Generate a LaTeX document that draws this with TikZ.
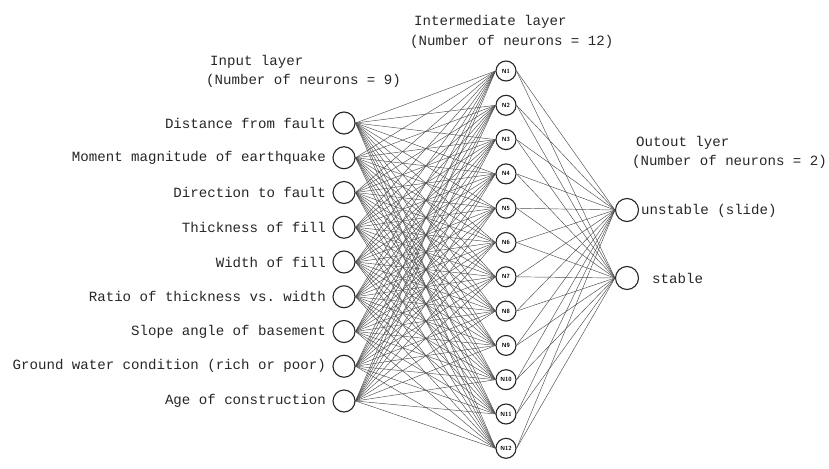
\documentclass[tikz,border=0pt]{standalone}
\usepackage{fontspec}
\setmonofont{Liberation Mono}
\begin{document}
\begin{tikzpicture}[x=1pt,y=-1pt,
  lbl/.style={font=\ttfamily\fontsize{14.1}{16}\selectfont, text=black!85, inner sep=0pt},
  innode/.style={circle, draw=black!85, line width=1.1pt, minimum size=22pt, inner sep=0pt},
  hidnode/.style={circle, draw=black!85, line width=1.1pt, minimum size=20pt, inner sep=0pt, font=\sffamily\bfseries\fontsize{6}{6}\selectfont},
  outnode/.style={circle, draw=black!85, line width=1.1pt, minimum size=23pt, inner sep=0pt},
  wire/.style={draw=black!70, line width=0.45pt}]
\useasboundingbox (0,0) rectangle (829,468);
% input nodes
\foreach \i/\t in {1/Distance from fault,2/Moment magnitude of earthquake,3/Direction to fault,4/Thickness of fill,5/Width of fill,6/Ratio of thickness vs. width,7/Slope angle of basement,8/Ground water condition (rich or poor),9/Age of construction}{
  \node[innode] (i\i) at (344,{123+(\i-1)*34.75}) {};
  \node[lbl, anchor=east] (li\i) at (326,{123+(\i-1)*34.75}) {\t};
}
% hidden nodes
\foreach \j in {1,...,12}{
  \node[hidnode] (h\j) at (506,{71+(\j-1)*34.3}) {N\j};
}
% output nodes
\node[outnode] (o1) at (627,210) {};
\node[outnode] (o2) at (627,278) {};
\node[lbl, anchor=west] (lo1) at (641,211) {unstable (slide)};
\node[lbl, anchor=west] (lo2) at (652,278) {stable};
% headers
\node[lbl, anchor=west] (hi1) at (210,62) {Input layer};
\node[lbl, anchor=west] (hi2) at (206,81) {(Number of neurons = 9)};
\node[lbl, anchor=west] (hh1) at (414,22) {Intermediate layer};
\node[lbl, anchor=west] (hh2) at (410,42) {(Number of neurons = 12)};
\node[lbl, anchor=west] (ho1) at (636,143) {Outout lyer};
\node[lbl, anchor=west] (ho2) at (632,162) {(Number of neurons = 2)};
% wires
\foreach \i in {1,...,9}{
  \foreach \j in {1,...,12}{
    \draw[wire] (i\i.east) -- (h\j.west);
  }
}
\foreach \j in {1,...,12}{
  \foreach \k in {1,2}{
    \draw[wire] (h\j.east) -- (o\k.west);
  }
}
\end{tikzpicture}
\end{document}
